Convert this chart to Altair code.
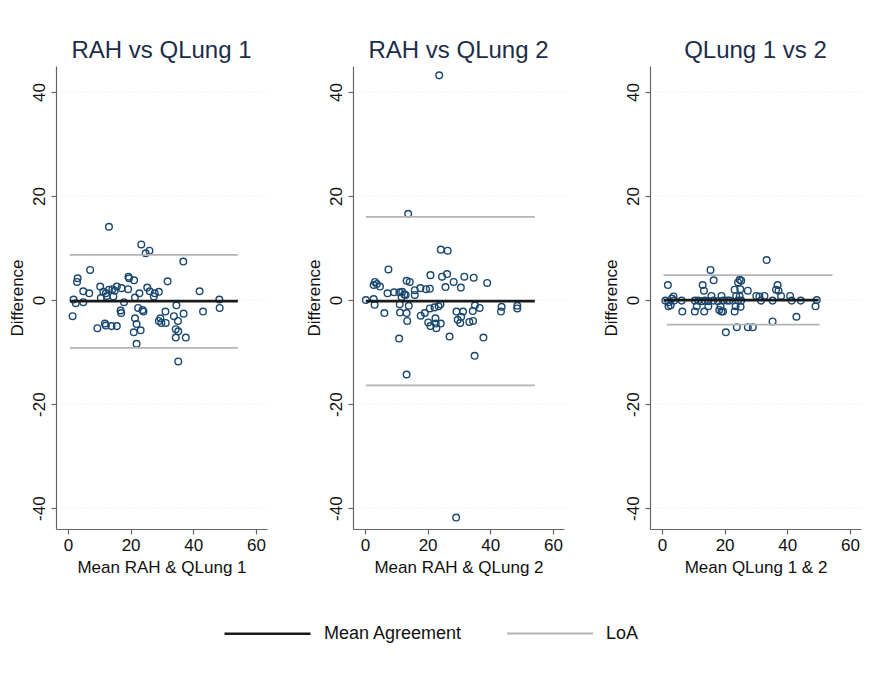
import altair as alt
import pandas as pd

panel_titles = ["RAH vs QLung 1", "RAH vs QLung 2", "QLung 1 vs 2"]
x_titles = ["Mean RAH & QLung 1", "Mean RAH & QLung 2", "Mean QLung 1 & 2"]
x_ticks = [0, 20, 40, 60]
y_ticks = [-40, -20, 0, 20, 40]
legend_series = ["Mean Agreement", "LoA"]

# Panel 1: RAH vs QLung 1
p1_mean = [13.1, 23.4, 26.0, 24.8, 36.8, 7.1, 3.1, 2.9, 19.3, 19.5, 21.1, 31.8, 10.3, 4.9, 6.8,
           11.3, 12.1, 13.1, 14.2, 14.9, 15.6, 17.1, 19.2, 14.5, 12.4, 10.5,
           22.8, 25.3, 26.1, 27.7, 29.0, 27.4, 21.4, 42.0,
           1.8, 2.5, 4.9, 17.9, 48.3, 48.4, 43.1,
           1.5, 16.8, 17.0, 22.4, 23.8, 24.1, 31.1, 34.6, 36.9, 33.8, 29.5, 29.0, 29.8, 31.2, 35.1,
           21.4, 21.9, 9.4, 11.8, 12.1, 13.9, 15.6, 23.2, 21.0, 34.4, 35.2, 34.4, 37.6, 21.9, 35.2]
p1_diff = [14.1, 10.7, 9.5, 9.0, 7.4, 5.8, 4.2, 3.5, 4.5, 4.2, 3.8, 3.6, 2.6, 1.7, 1.3,
           1.6, 1.3, 2.0, 2.1, 1.8, 2.6, 2.3, 2.1, 0.7, 0.8, 0.4,
           1.3, 2.4, 1.7, 1.3, 1.6, 0.7, 0.5, 1.7,
           0.1, -0.6, -0.4, -0.4, 0.1, -1.5, -2.2,
           -3.1, -2.0, -2.5, -1.5, -1.9, -2.2, -2.2, -1.0, -2.6, -3.1, -3.5, -4.0, -4.4, -4.4, -4.0,
           -3.5, -4.6, -5.4, -4.5, -4.9, -5.0, -5.0, -5.8, -6.2, -5.6, -6.0, -7.2, -7.2, -8.4, -11.8]

# Panel 2: RAH vs QLung 2
p2_mean = [23.7, 29.1, 13.8, 24.2, 26.4, 7.5, 3.2, 2.8, 3.8, 4.8, 13.3, 14.3, 20.9, 24.6, 26.2,
           28.3, 31.7, 34.7, 39.0, 25.7, 30.6, 7.2, 9.3, 11.0, 11.9, 12.6, 11.7, 13.0, 15.9, 15.9,
           17.7, 19.5, 20.7, 0.3, 2.8, 3.1, 11.1, 14.0, 6.2, 11.2, 13.3, 13.5, 17.8, 19.1, 20.7,
           22.2, 23.5, 24.1, 22.5, 20.2, 20.9, 22.8, 24.2, 22.6, 27.0, 10.9, 29.2, 31.3, 29.6,
           30.4, 30.7, 33.3, 34.5, 34.4, 35.1, 36.6, 37.8, 35.0, 13.3, 43.6, 43.4, 48.6, 48.6]
p2_diff = [43.2, -41.8, 16.6, 9.7, 9.5, 5.9, 3.5, 2.9, 3.1, 2.6, 3.7, 3.5, 4.8, 4.5, 5.0,
           3.5, 4.5, 4.3, 3.3, 2.5, 2.4, 1.3, 1.5, 1.5, 1.6, 1.1, 0.6, 1.0, 1.9, 1.0,
           2.3, 2.1, 2.2, 0.0, 0.2, -0.9, -0.8, -1.1, -2.5, -2.4, -2.5, -4.0, -3.0, -2.5, -1.6,
           -1.4, -1.2, -0.8, -3.5, -4.3, -5.0, -5.4, -4.5, -4.5, -7.0, -7.4, -2.2, -2.2, -3.8,
           -4.4, -3.2, -4.2, -4.0, -2.1, -1.0, -1.5, -7.2, -10.7, -14.3, -1.3, -2.2, -1.1, -1.6]

# Panel 3: QLung 1 vs 2
p3_mean = [33.4, 15.5, 16.5, 1.9, 13.0, 13.4, 24.8, 25.3, 24.3, 23.2, 25.0, 27.4, 36.9, 36.4,
           37.2, 38.0, 40.9, 15.8, 19.0, 19.5, 24.8, 23.7, 30.1, 31.1, 32.7, 31.6, 35.3, 41.4,
           44.3, 49.4, 49.0, 1.1, 2.1, 2.1, 2.8, 3.7, 3.9, 3.2, 6.3, 6.5, 10.5, 11.6, 12.7,
           13.7, 14.8, 16.4, 17.9, 20.8, 21.6, 10.5, 11.1, 13.5, 14.8, 18.3, 19.0, 19.5, 18.7,
           23.2, 23.5, 25.1, 24.3, 25.3, 35.3, 42.9, 20.4, 23.9, 27.4, 29.0]
p3_diff = [7.7, 5.8, 3.8, 2.9, 2.9, 1.8, 3.9, 3.7, 3.4, 2.0, 2.1, 1.8, 2.9, 2.0,
           1.8, 0.8, 0.8, 0.8, 0.8, -0.1, 0.7, 0.8, 0.8, 0.7, 0.8, -0.1, -0.1, -0.1,
           -0.1, 0.0, -1.2, -0.1, -0.4, -1.2, -1.0, 0.7, -0.1, 0.3, -0.1, -2.2, -0.1, -0.1, -0.2,
           -0.1, -0.2, -0.1, -0.2, -0.1, -0.1, -2.2, -1.2, -2.2, -1.2, -1.9, -2.2, -2.2, -1.2,
           -2.2, -1.2, -1.3, -0.1, -0.1, -4.1, -3.2, -6.2, -5.2, -5.2, -5.2]

# Reference lines: mean agreement, upper LoA, lower LoA
line_series = ["Mean Agreement", "LoA", "LoA"]
line_group = ["mean", "upper", "lower"]
p1_line_y = [-0.2, 8.7, -9.2]
p1_line_x0 = [0.6, 0.6, 0.6]
p1_line_x1 = [54.2, 54.2, 54.2]
p2_line_y = [-0.2, 16.0, -16.4]
p2_line_x0 = [0.3, 0.3, 0.3]
p2_line_x1 = [54.2, 54.2, 54.2]
p3_line_y = [0.0, 4.8, -4.7]
p3_line_x0 = [0.5, 0.5, 1.6]
p3_line_x1 = [50.0, 54.4, 50.3]

FONT = "Liberation Sans"
NAVY = "#1a476f"


def make_panel(title, xtitle, means, diffs, ly, lx0, lx1):
    pts = pd.DataFrame({"m": means, "d": diffs})
    lines = pd.DataFrame({"series": line_series, "grp": line_group,
                          "y": ly, "x0": lx0, "x1": lx1})
    xs = alt.Scale(domain=[-3.8, 63.5], nice=False, zero=False)
    ys = alt.Scale(domain=[-44, 45], nice=False, zero=False)
    xaxis = alt.Axis(values=x_ticks, title=xtitle, grid=False, labelExpr="datum.value + ''",
                     titlePadding=6)
    yaxis = alt.Axis(values=y_ticks, title="Difference", grid=True,
                     labelExpr="datum.value + ''",
                     labelAngle=-90, labelAlign="center", labelBaseline="bottom")
    points = alt.Chart(pts).mark_point(
        shape="circle", filled=False, size=44, strokeWidth=1.4, color=NAVY, opacity=1
    ).encode(
        x=alt.X("m:Q", scale=xs, axis=xaxis),
        y=alt.Y("d:Q", scale=ys, axis=yaxis),
    )
    rules = alt.Chart(lines).mark_rule().encode(
        x=alt.X("x0:Q", scale=xs),
        x2="x1:Q",
        y=alt.Y("y:Q", scale=ys),
        detail="grp:N",
        color=alt.Color(
            "series:N",
            scale=alt.Scale(domain=legend_series, range=["#1a1a1a", "#b4b4b4"]),
            legend=alt.Legend(
                title=None, orient="none", legendX=167, legendY=523,
                direction="horizontal", symbolType="stroke", symbolSize=7400,
                symbolStrokeWidth=2, labelFontSize=18, labelFont=FONT,
                labelColor="#111", labelOffset=12, columnPadding=40,
            ),
        ),
        strokeWidth=alt.StrokeWidth(
            "series:N",
            scale=alt.Scale(domain=legend_series, range=[2.6, 1.8]),
            legend=None,
        ),
    )
    return alt.layer(points, rules).properties(
        width=211, height=463,
        title=alt.TitleParams(title, fontSize=24, font=FONT, fontWeight="normal",
                              color="#1c2d4a", offset=3),
    )


panels = [
    make_panel(panel_titles[0], x_titles[0], p1_mean, p1_diff, p1_line_y, p1_line_x0, p1_line_x1),
    make_panel(panel_titles[1], x_titles[1], p2_mean, p2_diff, p2_line_y, p2_line_x0, p2_line_x1),
    make_panel(panel_titles[2], x_titles[2], p3_mean, p3_diff, p3_line_y, p3_line_x0, p3_line_x1),
]

chart = alt.hconcat(*panels, spacing=38).properties(
    padding={"top": 31, "left": 0, "right": 5, "bottom": 5}
).configure_view(stroke=None).configure_axis(
    labelFont=FONT, titleFont=FONT, labelFontSize=17, titleFontSize=17,
    labelColor="#111", titleColor="#111", titleFontWeight="normal",
    domainColor="#666", tickColor="#666", domainWidth=1.2, tickWidth=1.2, tickSize=5,
    gridColor="#e6eaee", gridDash=[1, 2], gridWidth=1, labelPadding=3, titlePadding=4,
)

chart.save("out.html", embed_options={"renderer": "svg", "actions": False})
